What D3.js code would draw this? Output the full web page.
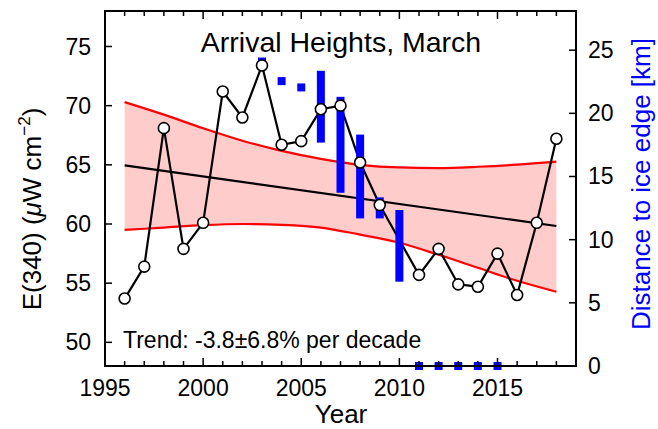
<!DOCTYPE html>
<html>
<head>
<meta charset="utf-8">
<script src="https://cdn.jsdelivr.net/npm/d3@7"></script>
<style>
  body { margin: 0; background: #fff; }
  text { font-family: "Liberation Sans", Arial, sans-serif; }
</style>
</head>
<body>
<div id="vis"></div>
<script>
// measured irradiance, March (no value for 2010)
const years = [1996, 1997, 1998, 1999, 2000, 2001, 2002, 2003, 2004, 2005, 2006, 2007, 2008, 2009,
    2011, 2012, 2013, 2014, 2015, 2016, 2017, 2018];
const irradiance = [53.7, 56.4, 68.1, 57.9, 60.1, 71.2, 69.0, 73.4, 66.7, 67.0, 69.7, 70.0, 65.2, 61.6,
    55.7, 57.9, 54.9, 54.7, 57.5, 54.0, 60.1, 67.2];

// linear trend and its confidence band
const trendYears = [1996, 2018];
const trendValues = [64.95, 59.83];
const bandYears = [1996, 1998, 2000, 2002, 2004, 2006, 2008, 2010, 2012, 2014, 2016, 2018];
const bandUpper = [70.3, 69.24, 68.09, 67.04, 66.18, 65.5, 65.0, 64.78, 64.73, 64.84, 65.02, 65.28];
const bandLower = [59.5, 59.7, 59.9, 60.0, 59.93, 59.7, 59.1, 58.42, 57.4, 56.3, 55.2, 54.27];

// distance to ice edge (km): min and max per year
const iceYears = [2003, 2004, 2005, 2006, 2007, 2008, 2009, 2010, 2011, 2012, 2013, 2014, 2015];
const iceMin = [24.1, 22.55, 22.05, 18.0, 14.03, 12.0, 12.0, 6.99, 0, 0, 0, 0, 0];
const iceMax = [24.1, 22.55, 22.05, 23.05, 20.99, 18.0, 13.03, 12.03, 0, 0, 0, 0, 0];

const xTicks = [1995, 2000, 2005, 2010, 2015];
const yTicks = [50, 55, 60, 65, 70, 75];
const y2Ticks = [0, 5, 10, 15, 20, 25];

const margin = { top: 11, right: 82, bottom: 63, left: 105 };
const width = 658 - margin.left - margin.right;
const height = 429 - margin.top - margin.bottom;

const svg = d3.select('#vis')
    .append('svg')
    .attr('width', 658)
    .attr('height', 429)
    .append('g')
    .attr('transform', `translate(${margin.left},${margin.top})`);

const x = d3.scaleLinear().domain([1995, 2019]).range([0, width]);
const y = d3.scaleLinear().domain([48, 78]).range([height, 0]);
const y2 = d3.scaleLinear().domain([0, 28.1]).range([height, 0]);

const data = years.map((yr, i) => ({ year: yr, value: irradiance[i] }));
const band = bandYears.map((yr, i) => ({ year: yr, lo: bandLower[i], hi: bandUpper[i] }));
const ice = iceYears.map((yr, i) => ({ year: yr, min: iceMin[i], max: iceMax[i] }));

// confidence band
svg.append('path')
    .datum(band)
    .attr('fill', '#ffcccc')
    .attr('d', d3.area().x(d => x(d.year)).y0(d => y(d.lo)).y1(d => y(d.hi)).curve(d3.curveMonotoneX));

['hi', 'lo'].forEach(k => {
    svg.append('path')
        .datum(band)
        .attr('fill', 'none')
        .attr('stroke', '#ff0000')
        .attr('stroke-width', 2.2)
        .attr('d', d3.line().x(d => x(d.year)).y(d => y(d[k])).curve(d3.curveMonotoneX));
});

// trend line
svg.append('path')
    .datum(trendYears.map((yr, i) => ({ year: yr, value: trendValues[i] })))
    .attr('fill', 'none')
    .attr('stroke', '#000')
    .attr('stroke-width', 2.2)
    .attr('d', d3.line().x(d => x(d.year)).y(d => y(d.value)));

// data line
svg.append('path')
    .datum(data)
    .attr('fill', 'none')
    .attr('stroke', '#000')
    .attr('stroke-width', 2.2)
    .attr('d', d3.line().x(d => x(d.year)).y(d => y(d.value)));

// ice edge distance bars
svg.selectAll('.ice')
    .data(ice)
    .enter()
    .append('rect')
    .attr('class', 'ice')
    .attr('x', d => x(d.year) - 4)
    .attr('width', 8)
    .attr('y', d => y2(d.max) - 4)
    .attr('height', d => y2(d.min) - y2(d.max) + 8)
    .attr('fill', '#0000ff');

// markers
svg.selectAll('.pt')
    .data(data)
    .enter()
    .append('circle')
    .attr('class', 'pt')
    .attr('cx', d => x(d.year))
    .attr('cy', d => y(d.value))
    .attr('r', 5.5)
    .attr('fill', '#fff')
    .attr('stroke', '#000')
    .attr('stroke-width', 1.6);

// frame and ticks (all pointing inward)
svg.append('rect')
    .attr('width', width)
    .attr('height', height)
    .attr('fill', 'none')
    .attr('stroke', '#000')
    .attr('stroke-width', 2);

const ticks = svg.append('g').attr('stroke', '#000').attr('stroke-width', 1.5);
d3.range(1996, 2019).forEach(yr => {
    const len = yr % 5 === 0 ? 8 : 5;
    ticks.append('line').attr('x1', x(yr)).attr('x2', x(yr)).attr('y1', height).attr('y2', height - len);
    ticks.append('line').attr('x1', x(yr)).attr('x2', x(yr)).attr('y1', 0).attr('y2', len);
});
yTicks.forEach(v => {
    ticks.append('line').attr('x1', 0).attr('x2', 7).attr('y1', y(v)).attr('y2', y(v));
});
y2Ticks.forEach(v => {
    ticks.append('line').attr('x1', width).attr('x2', width - 7).attr('y1', y2(v)).attr('y2', y2(v));
});

// tick labels
svg.selectAll('.xlab')
    .data(xTicks)
    .enter()
    .append('text')
    .attr('x', d => x(d))
    .attr('y', height + 30)
    .attr('text-anchor', 'middle')
    .attr('font-size', 23)
    .text(d => d);

svg.selectAll('.ylab')
    .data(yTicks)
    .enter()
    .append('text')
    .attr('x', -14)
    .attr('y', d => y(d) + 8)
    .attr('text-anchor', 'end')
    .attr('font-size', 23)
    .text(d => d);

svg.selectAll('.y2lab')
    .data(y2Ticks)
    .enter()
    .append('text')
    .attr('x', width + 12)
    .attr('y', d => y2(d) + 8)
    .attr('font-size', 23)
    .text(d => d);

// axis titles
svg.append('text')
    .attr('x', 236)
    .attr('y', height + 57)
    .attr('text-anchor', 'middle')
    .attr('font-size', 26)
    .text('Year');

const ylab = svg.append('text')
    .attr('transform', `translate(${41 - margin.left},${209 - margin.top}) rotate(-90)`)
    .attr('text-anchor', 'middle')
    .attr('font-size', 26);
ylab.append('tspan').text('E(340) (');
ylab.append('tspan').attr('font-style', 'italic').text('\u03bc');
ylab.append('tspan').text('W cm');
ylab.append('tspan').attr('font-size', 17).attr('dy', -11).text('\u22122');
ylab.append('tspan').attr('dy', 11).text(')');

svg.append('text')
    .attr('transform', `translate(${650 - margin.left},${184 - margin.top}) rotate(-90)`)
    .attr('text-anchor', 'middle')
    .attr('font-size', 26)
    .attr('fill', '#0000ff')
    .text('Distance to ice edge [km]');

// annotations
svg.append('text')
    .attr('x', 341 - margin.left)
    .attr('y', 52 - margin.top)
    .attr('text-anchor', 'middle')
    .attr('font-size', 28.5)
    .text('Arrival Heights, March');

svg.append('text')
    .attr('x', 123 - margin.left)
    .attr('y', 348 - margin.top)
    .attr('font-size', 23)
    .text('Trend: -3.8\u00b16.8% per decade');
</script>
</body>
</html>
